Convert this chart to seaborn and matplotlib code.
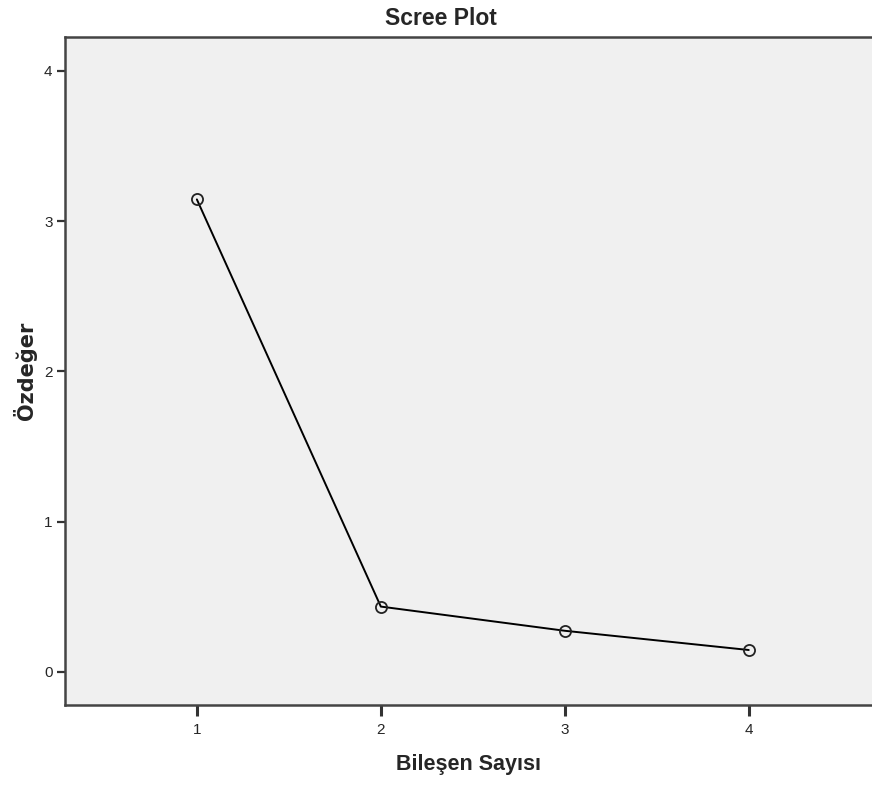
import matplotlib
matplotlib.use("Agg")
import matplotlib.pyplot as plt
import pandas as pd
import seaborn as sns

# scree plot values (eigenvalues per component)
components = [1, 2, 3, 4]
eigenvalues = [3.145, 0.435, 0.274, 0.146]
y_ticks = [0, 1, 2, 3, 4]

sns.set_style("ticks")
plt.rcParams['font.family'] = ['Liberation Sans', 'DejaVu Sans']

df = pd.DataFrame({'component': components, 'eigen': eigenvalues})

fig = plt.figure(figsize=(8.72, 7.87), dpi=100)
ax = fig.add_axes([0.0745, 0.1042, 0.9255, 0.8488])
ax.set_facecolor('#F0F0F0')

sns.lineplot(data=df, x='component', y='eigen', ax=ax, color='black',
             linewidth=1.4, marker='o', markersize=8,
             markerfacecolor='none', markeredgecolor='#222222',
             markeredgewidth=1.3)

ax.set_xlim(0.283, 4.67)
ax.set_ylim(-0.22, 4.226)
ax.set_xticks(components)
ax.set_yticks(y_ticks)
ax.tick_params(axis='x', direction='out', length=8, width=2.2,
               color='#333333', labelsize=11, pad=5)
ax.tick_params(axis='y', direction='out', length=6, width=1.6,
               color='#333333', labelsize=11, pad=3)

for side in ['left', 'bottom', 'top']:
    ax.spines[side].set_color('#444444')
    ax.spines[side].set_linewidth(1.8)
ax.spines['right'].set_visible(False)

ax.set_title('Scree Plot', fontsize=16.5, fontweight='bold',
             x=0.466, y=1.028, va='center', pad=0)
ax.set_xlabel('Bileşen Sayısı', fontsize=15.5, fontweight='bold')
ax.xaxis.set_label_coords(0.5, -0.0898)
ax.xaxis.label.set_va('center')
ax.set_ylabel('Özdeğer', fontsize=15, fontweight='bold', family=['DejaVu Sans'])
ax.yaxis.set_label_coords(-0.0496, 0.5)
ax.yaxis.label.set_va('center')

fig.savefig('out.png', dpi=100)
